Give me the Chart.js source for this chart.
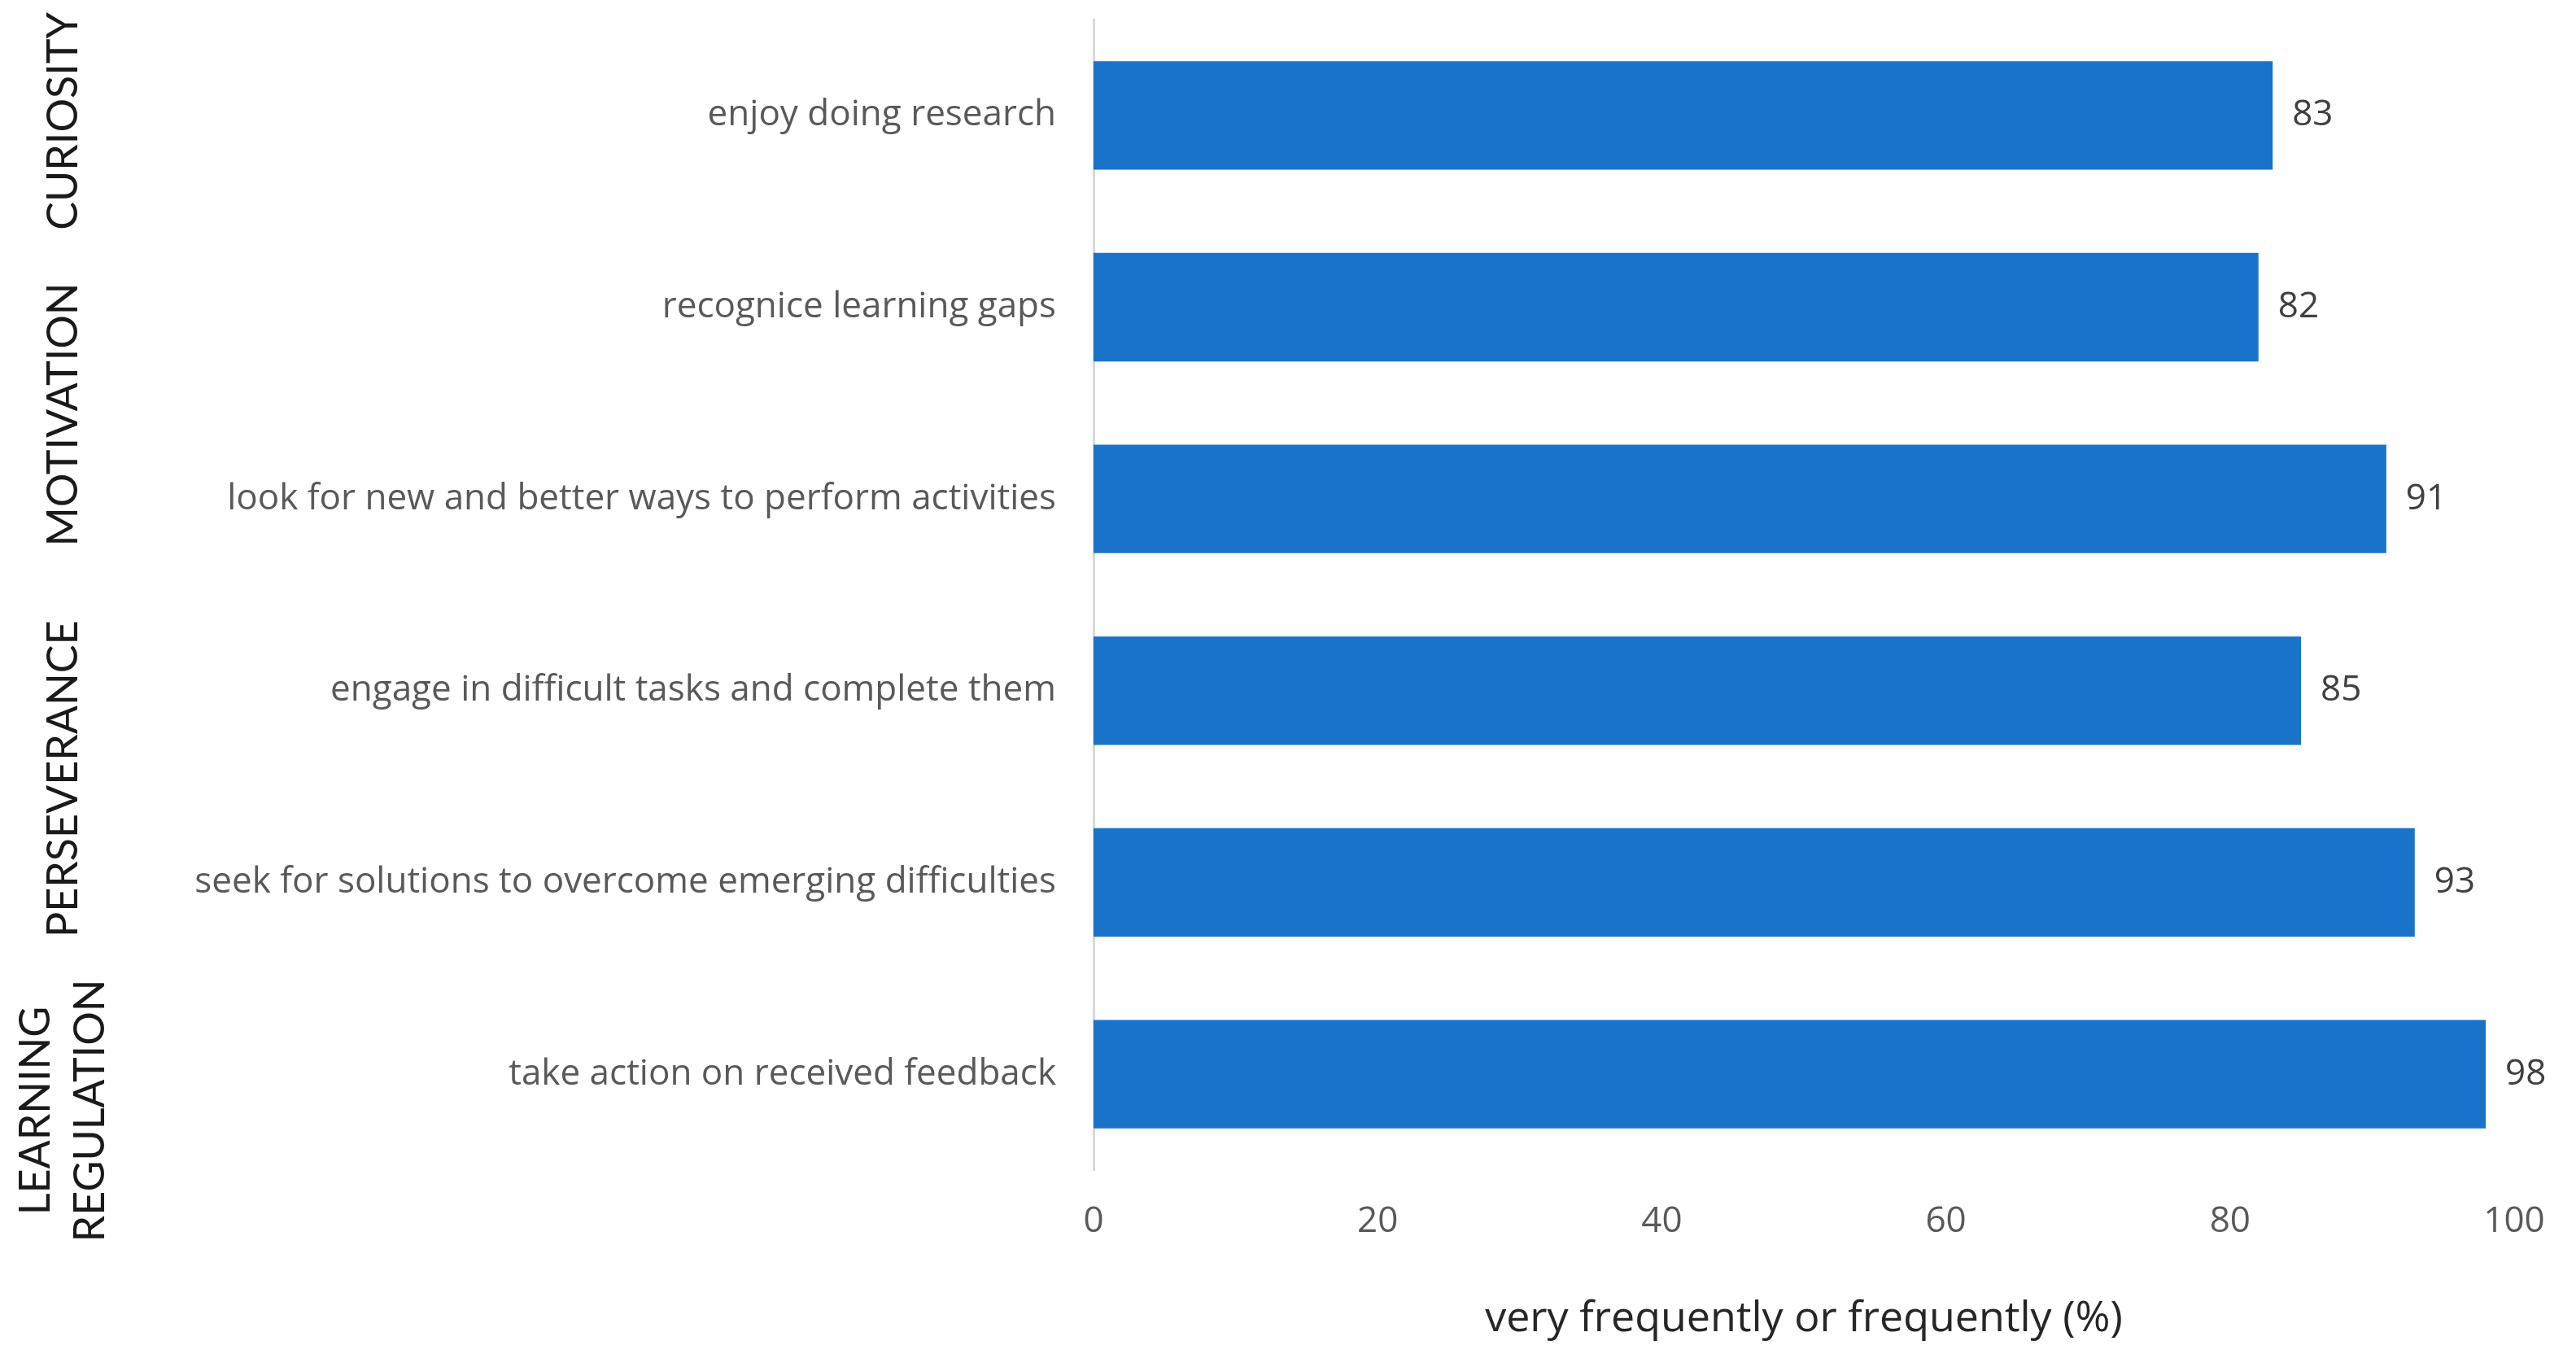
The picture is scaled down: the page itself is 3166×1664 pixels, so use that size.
<!DOCTYPE html>
<html>
<head>
<meta charset="utf-8">
<script src="https://cdn.jsdelivr.net/npm/chart.js@4.4.1/dist/chart.umd.min.js"></script>
<style>
    html, body { margin: 0; padding: 0; background: #ffffff; }
    #chart { display: block; }
</style>
</head>
<body>
<canvas id="chart" width="3166" height="1664"></canvas>
<script>
const categories = [
    "enjoy doing research",
    "recognice learning gaps",
    "look for new and better ways to perform activities",
    "engage in difficult tasks and complete them",
    "seek for solutions to overcome emerging difficulties",
    "take action on received feedback",
];
const values = [83, 82, 91, 85, 93, 98];
const xTicks = [0, 20, 40, 60, 80, 100];
const axisTitle = "very frequently or frequently (%)";

// group labels down the left side, centred on a category position
const groupNames = [["CURIOSITY"], ["MOTIVATION"], ["PERSEVERANCE"], ["LEARNING", "REGULATION"]];
const groupCenters = [0.03, 1.56, 3.46, 5.19];

const labelFont = '"Open Sans", sans-serif';
const groupFont = 'Lato, "Noto Sans", sans-serif';

const barValueLabels = {
    id: "barValueLabels",
    afterDatasetsDraw(chart) {
        const ctx = chart.ctx;
        const meta = chart.getDatasetMeta(0);
        ctx.save();
        ctx.font = "44px " + labelFont;
        ctx.fillStyle = "#404040";
        ctx.textAlign = "left";
        ctx.textBaseline = "middle";
        meta.data.forEach((bar, i) => {
            ctx.fillText(String(values[i]), bar.x + 24, bar.y);
        });
        ctx.restore();
    },
};

const groupLabels = {
    id: "groupLabels",
    afterDraw(chart) {
        const ctx = chart.ctx;
        const yScale = chart.scales.y;
        const lineGap = 67;
        ctx.save();
        ctx.font = "52px " + groupFont;
        ctx.fillStyle = "#1a1a1a";
        ctx.textAlign = "center";
        ctx.textBaseline = "middle";
        groupNames.forEach((lines, i) => {
            const y = yScale.getPixelForValue(groupCenters[i]);
            const x0 = 78 - (lines.length - 1) * lineGap / 2;
            lines.forEach((line, j) => {
                ctx.save();
                ctx.translate(x0 + j * lineGap, y);
                ctx.rotate(-Math.PI / 2);
                ctx.fillText(line, 0, 0);
                ctx.restore();
            });
        });
        ctx.restore();
    },
};

new Chart(document.getElementById("chart"), {
    type: "bar",
    data: {
        labels: categories,
        datasets: [{
            data: values,
            backgroundColor: "#1873C9",
            borderWidth: 0,
            categoryPercentage: 1,
            barPercentage: 0.566,
        }],
    },
    options: {
        indexAxis: "y",
        responsive: false,
        animation: false,
        devicePixelRatio: 1,
        layout: { padding: { top: 24, right: 76, left: 0, bottom: 0 } },
        plugins: {
            legend: { display: false },
            tooltip: { enabled: false },
        },
        scales: {
            x: {
                min: 0,
                max: 100,
                afterBuildTicks: (scale) => {
                    scale.ticks = xTicks.map((v) => ({ value: v }));
                },
                afterFit: (scale) => { scale.height = 226; },
                grid: { display: false, drawTicks: false },
                border: { display: false },
                ticks: {
                    padding: 37,
                    color: "#595959",
                    font: { family: labelFont, size: 44 },
                    maxRotation: 0,
                },
                title: {
                    display: true,
                    text: axisTitle,
                    color: "#262626",
                    font: { family: labelFont, size: 52 },
                    padding: { top: 0, bottom: 12 },
                },
            },
            y: {
                afterFit: (scale) => {
                    scale.width = 1344;
                    scale.paddingTop = 0;
                    scale.paddingBottom = 0;
                },
                grid: { display: false, drawTicks: false },
                border: { display: true, color: "#D9D9D9", width: 3 },
                ticks: {
                    padding: 46,
                    color: "#595959",
                    font: { family: labelFont, size: 44 },
                },
            },
        },
    },
    plugins: [barValueLabels, groupLabels],
});
</script>
</body>
</html>
